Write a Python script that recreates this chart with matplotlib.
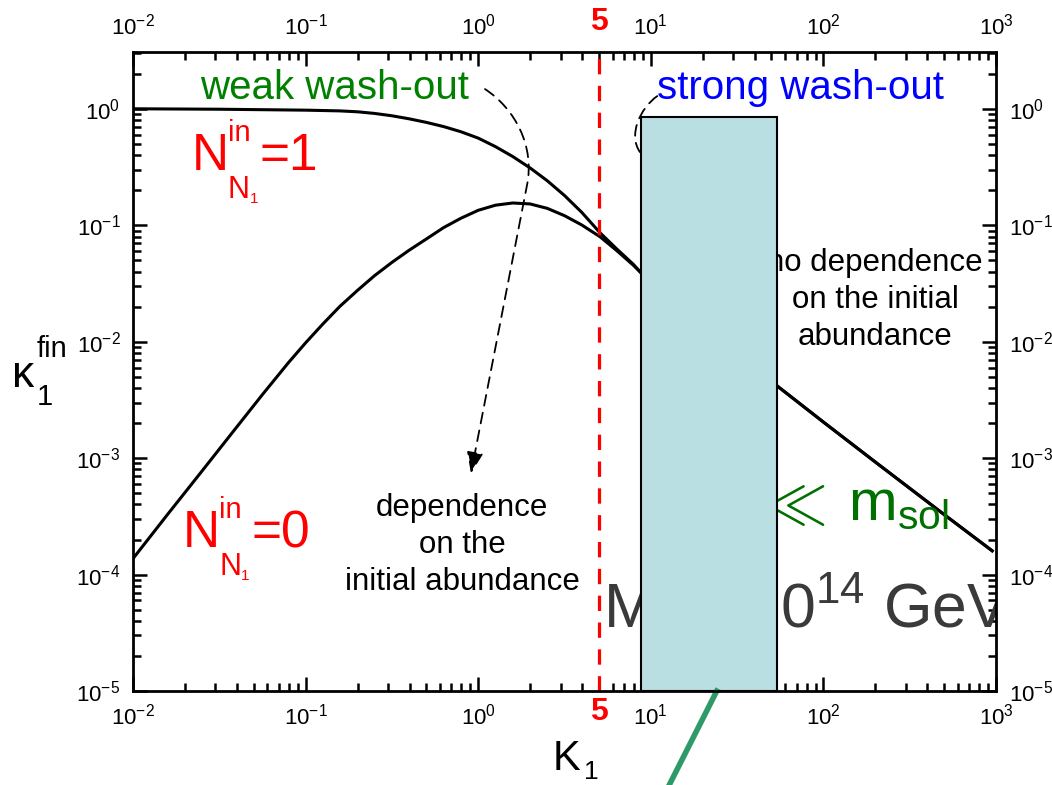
# Eficiencia final kappa_1 vs K_1 (washout)
import matplotlib
matplotlib.use("Agg")
import matplotlib.pyplot as plt
from matplotlib.patches import Rectangle, FancyArrowPatch
from matplotlib.path import Path

plt.rcParams['font.family'] = ['Liberation Sans', 'DejaVu Sans']
plt.rcParams['mathtext.fontset'] = 'custom'
plt.rcParams['mathtext.rm'] = 'Liberation Sans'
plt.rcParams['mathtext.it'] = 'Liberation Sans:italic'

# Datos
K_in1 = [0.01, 0.0316, 0.1, 0.158, 0.2, 0.251, 0.316, 0.398, 0.501, 0.631, 0.794, 1.0,
         1.259, 1.585, 1.995, 2.512, 3.162, 3.981, 5.08, 6.31, 7.94, 8.71,
         15, 30, 53.6, 100, 200, 500, 950]
kappa_in1 = [1.0, 0.991, 0.973, 0.959, 0.942, 0.912, 0.871, 0.820, 0.764, 0.703, 0.635, 0.560,
             0.473, 0.389, 0.311, 0.241, 0.180, 0.129, 0.0861, 0.0631, 0.0460, 0.0395,
             0.0196, 0.00841, 0.0042, 0.00204, 9.25e-4, 3.28e-4, 1.6e-4]

K_in0 = [0.01, 0.0158, 0.0251, 0.0398, 0.0569, 0.0794, 0.1, 0.126, 0.158, 0.2, 0.251, 0.316,
         0.398, 0.501, 0.631, 0.794, 1.0, 1.259, 1.585, 1.995, 2.512, 3.162, 3.981, 5.08,
         6.31, 7.94, 8.71, 15, 30, 53.6, 100, 200, 500, 950]
kappa_in0 = [1.37e-4, 3.26e-4, 7.74e-4, 1.84e-3, 3.59e-3, 6.58e-3, 9.77e-3, 0.0142, 0.0201,
             0.0276, 0.0369, 0.0479, 0.0610, 0.0762, 0.0955, 0.1148, 0.1343, 0.1486, 0.1552,
             0.1524, 0.1396, 0.1208, 0.1005, 0.0796, 0.0610, 0.0452, 0.0394,
             0.0196, 0.00841, 0.0042, 0.00204, 9.25e-4, 3.28e-4, 1.6e-4]

K_lim = 5
caja_K = [8.74, 53.8]
caja_kappa = [1e-5, 0.854]

xticks = [1e-2, 1e-1, 1e0, 1e1, 1e2, 1e3]
xlabels = ['$\\mathregular{10^{-2}}$', '$\\mathregular{10^{-1}}$', '$\\mathregular{10^{0}}$',
           '$\\mathregular{10^{1}}$', '$\\mathregular{10^{2}}$', '$\\mathregular{10^{3}}$']
yticks = [1e-5, 1e-4, 1e-3, 1e-2, 1e-1, 1e0]
ylabels = ['$\\mathregular{10^{-5}}$', '$\\mathregular{10^{-4}}$', '$\\mathregular{10^{-3}}$',
           '$\\mathregular{10^{-2}}$', '$\\mathregular{10^{-1}}$', '$\\mathregular{10^{0}}$']

W, H = 1052, 785
fig = plt.figure(figsize=(W / 100, H / 100), dpi=100)
ax = fig.add_axes([0.1264, 0.1197, 0.8204, 0.8140])
ax.set_xscale('log')
ax.set_yscale('log')
ax.set_xlim(1e-2, 1e3)
ax.set_ylim(1e-5, 3.07)


def texto(x, y, s, **kw):
    # posicion en pixeles de la imagen (origen arriba a la izquierda),
    # dibujado dentro de los ejes para que la caja lo pueda tapar
    kw.setdefault('zorder', 3)
    return ax.text(x / W, 1 - y / H, s, transform=fig.transFigure, **kw)


def etiqueta_N(x, y, valor):
    texto(x, y, 'N', fontsize=37, color='red', va='baseline')
    texto(x + 36, y - 29, 'in', fontsize=21, color='red', va='baseline')
    texto(x + 36, y + 28, 'N', fontsize=22, color='red', va='baseline')
    texto(x + 58, y + 33, '1', fontsize=11, color='red', va='baseline')
    texto(x + 68, y, '=' + valor, fontsize=37, color='red', va='baseline')


# curvas
ax.plot(K_in1, kappa_in1, color='black', lw=2.2, zorder=2)
ax.plot(K_in0, kappa_in0, color='black', lw=2.2, zorder=2)

# linea K=5
ax.axvline(K_lim, color='red', lw=2.3, ls=(0, (4.8, 3.6)), zorder=2)
ax.text(K_lim, 1.047, '5', transform=ax.get_xaxis_transform(), color='red',
        fontsize=23, fontweight='bold', ha='center', va='center')
ax.text(K_lim, -0.033, '5', transform=ax.get_xaxis_transform(), color='red',
        fontsize=23, fontweight='bold', ha='center', va='center')

# textos
texto(200, 88, 'weak wash-out', color='#008000', fontsize=29, va='center')
texto(657, 88, 'strong wash-out', color='#0000ff', fontsize=29, va='center')
etiqueta_N(192, 170, '1')
etiqueta_N(183, 547, '0')
texto(462, 545, 'dependence\non the\ninitial abundance', fontsize=22.5,
      ha='center', va='center', linespacing=1.32)
texto(875, 300, 'no dependence\non the initial\nabundance', fontsize=22.5,
      ha='center', va='center', linespacing=1.32)
ax.text(0.5446, 0.100, '$\\mathregular{M_1 \\sim 10^{14}\\ GeV}$', transform=ax.transAxes,
        color='#3a3a3a', fontsize=45, va='baseline', clip_on=True, zorder=3)
texto(755, 520, '$\\mathregular{\\tilde{m}_1}$', color='#007000', fontsize=42,
      va='baseline', ha='right')
texto(826, 522, '$\\ll$', color='#007000', fontsize=46, va='baseline', ha='right')
texto(848, 520, '$\\mathregular{m_{sol}}$', color='#007000', fontsize=42,
      va='baseline', ha='left')

# flechas discontinuas
p1 = Path([(1.095, 1.476), (1.634, 1.0), (2.13, 0.478), (1.918, 0.221), (0.908, 7.4e-4)],
          [Path.MOVETO, Path.CURVE4, Path.CURVE4, Path.CURVE4, Path.LINETO])
ax.add_patch(FancyArrowPatch(path=p1, arrowstyle='-|>,head_length=13,head_width=5',
                             color='black', lw=1.3, ls=(0, (6, 4)), zorder=3))
p2 = Path([(10.9, 1.285), (8.65, 1.01), (7.38, 0.594), (8.65, 0.425)],
          [Path.MOVETO, Path.CURVE4, Path.CURVE4, Path.CURVE4])
ax.add_patch(FancyArrowPatch(path=p2, arrowstyle='-', color='black', lw=1.3,
                             ls=(0, (6, 4)), zorder=3))

# caja (tapa parte de los textos, como en el original)
ax.add_patch(Rectangle((caja_K[0], caja_kappa[0]), caja_K[1] - caja_K[0],
                       caja_kappa[1] - caja_kappa[0], facecolor='#badfe3',
                       edgecolor='black', lw=1.5, zorder=4))
ax.plot([0.6764, 0.6165], [0.0, -0.16], transform=ax.transAxes, color='#2e9a6a',
        lw=4, clip_on=False, zorder=5)

# ejes
ax.set_xticks(xticks)
ax.set_xticklabels(xlabels)
ax.set_yticks(yticks)
ax.set_yticklabels(ylabels)
ax.tick_params(which='both', direction='in', top=True, right=True,
               labeltop=True, labelright=True, labelsize=16, width=1.8)
ax.tick_params(which='major', length=10, pad=9)
ax.tick_params(which='minor', length=6)
for s in ax.spines.values():
    s.set_linewidth(2)
    s.set_zorder(6)

texto(553, 770, 'K', fontsize=30, va='baseline')
texto(584, 779, '1', fontsize=19, va='baseline')
texto(12, 387, 'κ', fontsize=32, va='baseline')
texto(37, 357, 'fin', fontsize=21, va='baseline')
texto(37, 405, '1', fontsize=21, va='baseline')

fig.savefig('out.png', dpi=100)
